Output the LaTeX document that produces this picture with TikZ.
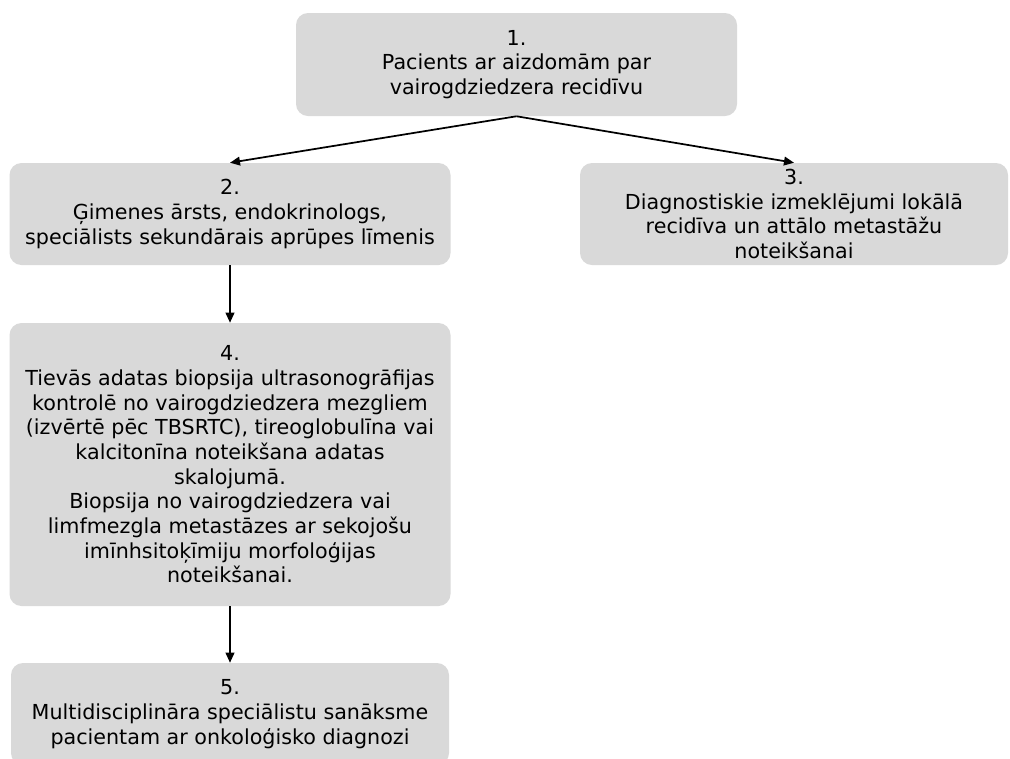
\documentclass[tikz,border=0pt]{standalone}
\usepackage{fontspec}
\setmainfont{DejaVu Sans}
\usetikzlibrary{arrows.meta}
\definecolor{boxgray}{RGB}{217,217,217}
\tikzset{
  stepbox/.style={fill=boxgray, draw=none, rounded corners=9pt, align=center,
    inner sep=0pt, font=\fontsize{15.5pt}{18.5pt}\selectfont, text=black},
  conn/.style={line width=1.3pt, -{Triangle[length=7.5pt,width=6.5pt]}}
}
\begin{document}
\begin{tikzpicture}[x=0.75pt,y=-0.75pt]
\clip (0,0) rectangle (1010,758);
\fill[white] (0,0) rectangle (1010,758);
\node[stepbox, minimum width=330.75pt, minimum height=77.25pt] (b1) at (516.5,64.5)
  {1.\\Pacients ar aizdomām par\\vairogdziedzera recidīvu};
\node[stepbox, minimum width=330.75pt, minimum height=76.5pt] (b2) at (230,214)
  {2.\\Ģimenes ārsts, endokrinologs,\\speciālists sekundārais aprūpes līmenis};
\node[stepbox, minimum width=321pt, minimum height=76.5pt] (b3) at (794,214)
  {3.\\Diagnostiskie izmeklējumi lokālā\\recidīva un attālo metastāžu\\noteikšanai};
\node[stepbox, minimum width=330.75pt, minimum height=212.25pt] (b4) at (230,464.5)
  {4.\\Tievās adatas biopsija ultrasonogrāfijas\\kontrolē no vairogdziedzera mezgliem\\(izvērtē pēc TBSRTC), tireoglobulīna vai\\kalcitonīna noteikšana adatas\\skalojumā.\\Biopsija no vairogdziedzera vai\\limfmezgla metastāzes ar sekojošu\\imīnhsitoķīmiju morfoloģijas\\noteikšanai.};
\node[stepbox, minimum width=328.5pt, minimum height=76.5pt] (b5) at (230,714)
  {5.\\Multidisciplināra speciālistu sanāksme\\pacientam ar onkoloģisko diagnozi};
\draw[conn] (b1.south) -- (b2.north);
\draw[conn] (b1.south) -- (b3.north);
\draw[conn] (b2.south) -- (b4.north);
\draw[conn] (b4.south) -- (b5.north);
\end{tikzpicture}
\end{document}
